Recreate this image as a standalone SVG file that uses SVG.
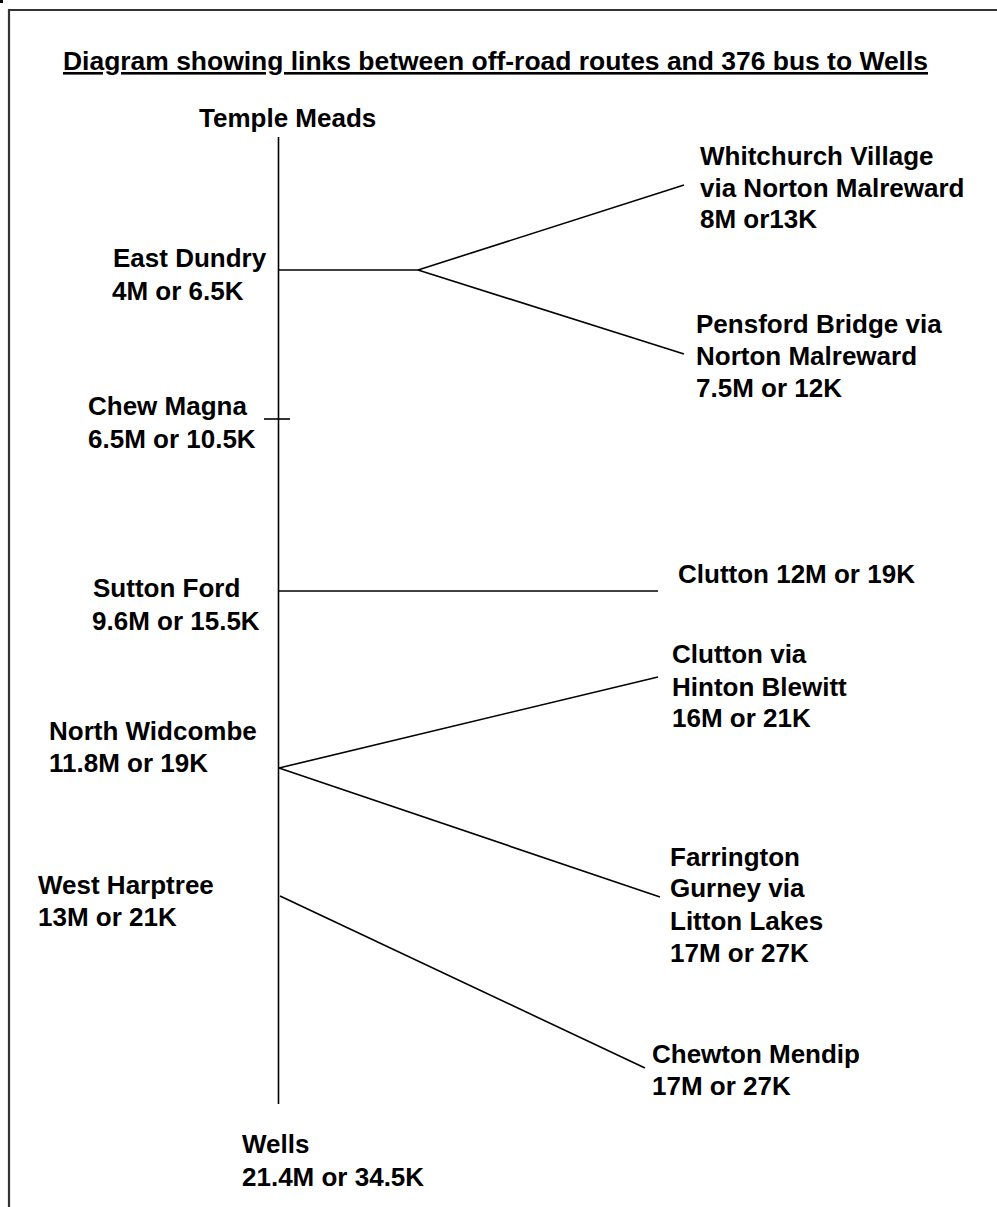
<svg xmlns="http://www.w3.org/2000/svg" width="997" height="1207" viewBox="0 0 997 1207">
<style>
text{font-family:"Liberation Sans",Arial,sans-serif;font-weight:bold;font-size:26px;fill:#000}
.title{text-decoration:underline}
.ln{stroke:#000;stroke-width:1.6;fill:none}
.frame{stroke:#333;stroke-width:2.2;fill:none}
</style>
<rect x="0" y="0" width="997" height="1207" fill="#fff"/>
<rect x="0" y="0" width="3" height="3" fill="#000"/>
<path class="frame" d="M9,1207 V10 H997"/>
<text class="title" x="63" y="70" textLength="865" lengthAdjust="spacingAndGlyphs">Diagram showing links between off-road routes and 376 bus to Wells</text>
<g id="connectors">
<line class="ln" x1="278.5" y1="137" x2="278.5" y2="1104"/>
<line class="ln" x1="278" y1="270" x2="418" y2="270"/>
<line class="ln" x1="418" y1="270" x2="684" y2="185"/>
<line class="ln" x1="418" y1="270" x2="684" y2="354"/>
<line class="ln" x1="264" y1="419" x2="290" y2="419"/>
<line class="ln" x1="278" y1="591" x2="658" y2="591"/>
<line class="ln" x1="279" y1="768" x2="658" y2="677"/>
<line class="ln" x1="279" y1="768" x2="660" y2="897"/>
<line class="ln" x1="280" y1="896" x2="645" y2="1068"/>
</g>
<g id="temple-meads"><text x="199" y="127">Temple Meads</text></g>
<g id="east-dundry"><text x="113" y="267">East Dundry</text><text x="112" y="300">4M or 6.5K</text></g>
<g id="whitchurch-village"><text x="700" y="165">Whitchurch Village</text><text x="700" y="197">via Norton Malreward</text><text x="700" y="228">8M or13K</text></g>
<g id="pensford-bridge"><text x="696" y="333">Pensford Bridge via</text><text x="696" y="365">Norton Malreward</text><text x="696" y="397">7.5M or 12K</text></g>
<g id="chew-magna"><text x="88" y="415">Chew Magna</text><text x="88" y="448">6.5M or 10.5K</text></g>
<g id="sutton-ford"><text x="93" y="597">Sutton Ford</text><text x="92" y="630">9.6M or 15.5K</text></g>
<g id="clutton"><text x="678" y="583">Clutton 12M or 19K</text></g>
<g id="clutton-hinton"><text x="672" y="663">Clutton via</text><text x="672" y="696">Hinton Blewitt</text><text x="672" y="727">16M or 21K</text></g>
<g id="north-widcombe"><text x="49" y="740">North Widcombe</text><text x="49" y="772">11.8M or 19K</text></g>
<g id="farrington-gurney"><text x="670" y="866">Farrington</text><text x="670" y="897">Gurney via</text><text x="670" y="930">Litton Lakes</text><text x="670" y="962">17M or 27K</text></g>
<g id="west-harptree"><text x="38" y="894">West Harptree</text><text x="38" y="926">13M or 21K</text></g>
<g id="chewton-mendip"><text x="652" y="1063">Chewton Mendip</text><text x="652" y="1095">17M or 27K</text></g>
<g id="wells"><text x="242" y="1153">Wells</text><text x="242" y="1186">21.4M or 34.5K</text></g>
</svg>
